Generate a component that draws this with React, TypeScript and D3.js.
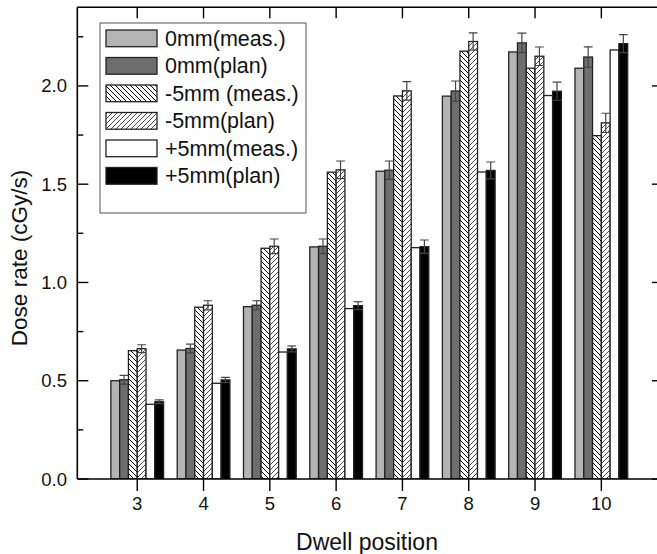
import React from "react";
import * as d3 from "d3";

const positions = [3, 4, 5, 6, 7, 8, 9, 10];
const meas0 = [0.5, 0.656, 0.877, 1.181, 1.566, 1.948, 2.173, 2.09];
const plan0 = [0.505, 0.664, 0.884, 1.184, 1.571, 1.974, 2.219, 2.147];
const plan0Err = [0.022, 0.022, 0.023, 0.037, 0.047, 0.051, 0.05, 0.052];
const measM5 = [0.653, 0.874, 1.174, 1.561, 1.949, 2.177, 2.09, 1.747];
const planM5 = [0.663, 0.884, 1.184, 1.573, 1.975, 2.226, 2.151, 1.812];
const planM5Err = [0.02, 0.023, 0.037, 0.045, 0.047, 0.044, 0.047, 0.049];
const measP5 = [0.38, 0.487, 0.646, 0.867, 1.177, 1.562, 1.951, 2.183];
const planP5 = [0.393, 0.504, 0.662, 0.882, 1.182, 1.57, 1.973, 2.215];
const planP5Err = [0.01, 0.013, 0.015, 0.02, 0.034, 0.043, 0.046, 0.046];

const seriesNames = ["0mm(meas.)", "0mm(plan)", "-5mm (meas.)", "-5mm(plan)", "+5mm(meas.)", "+5mm(plan)"];
const yMajor = [0, 0.5, 1.0, 1.5, 2.0];
const yMinor = [0.25, 0.75, 1.25, 1.75, 2.25];

const fills = ["#b4b4b4", "#6e6e6e", "url(#hatchBack)", "url(#hatchFwd)", "#ffffff", "#000000"];

export default function App() {
  const W = 657, H = 554;
  const left = 77.3, right = 663, top = 7.3, bottom = 479;
  const x = d3.scaleLinear().domain([2.096, 10.93]).range([left, right]);
  const y = d3.scaleLinear().domain([0, 2.4]).range([bottom, top]);
  const groupW = 0.795;
  const inner = d3.scaleBand().domain(d3.range(6).map(String)).range([-groupW / 2, groupW / 2]);
  const bw = x(inner.bandwidth()) - x(0);

  const series = [
    { vals: meas0, err: null },
    { vals: plan0, err: plan0Err },
    { vals: measM5, err: null },
    { vals: planM5, err: planM5Err },
    { vals: measP5, err: null },
    { vals: planP5, err: planP5Err },
  ];

  const font = "'Liberation Sans', Arial, sans-serif";

  return (
    <svg width={W} height={H} style={{ position: "absolute", left: 0, top: 0, background: "#fff" }} fontFamily={font}>
      <defs>
        <pattern id="hatchBack" patternUnits="userSpaceOnUse" width={5} height={5}>
          <rect width={5} height={5} fill="#fff" />
          <path d="M0,0 L5,5 M-1,4 L1,6 M4,-1 L6,1" stroke="#000" strokeWidth={1} />
        </pattern>
        <pattern id="hatchFwd" patternUnits="userSpaceOnUse" width={5} height={5}>
          <rect width={5} height={5} fill="#fff" />
          <path d="M0,5 L5,0 M-1,1 L1,-1 M4,6 L6,4" stroke="#333" strokeWidth={0.9} />
        </pattern>
        <clipPath id="plotClip">
          <rect x={left} y={top} width={right - left} height={bottom - top} />
        </clipPath>
      </defs>
      <rect width={W} height={H} fill="#fff" />

      {/* bars */}
      <g clipPath="url(#plotClip)">
        {series.map((s, si) =>
          positions.map((p, i) => {
            const x0 = x(p + inner(String(si))!);
            return (
              <rect
                key={`b${si}-${i}`}
                x={x0}
                y={y(s.vals[i])}
                width={bw}
                height={y(0) - y(s.vals[i])}
                fill={fills[si]}
                stroke="#222"
                strokeWidth={1.3}
              />
            );
          })
        )}
        {series.map((s, si) =>
          s.err
            ? positions.map((p, i) => {
                const cx = x(p + inner(String(si))!) + bw / 2;
                const v = s.vals[i];
                const e = s.err![i];
                const capW = bw;
                return (
                  <g key={`e${si}-${i}`} stroke="#444" strokeWidth={1.2}>
                    <line x1={cx} x2={cx} y1={y(v + e)} y2={y(v - e)} />
                    <line x1={cx - capW / 2} x2={cx + capW / 2} y1={y(v + e)} y2={y(v + e)} />
                    <line x1={cx - capW / 2} x2={cx + capW / 2} y1={y(v - e)} y2={y(v - e)} />
                  </g>
                );
              })
            : null
        )}
      </g>

      {/* frame */}
      <g stroke="#000" strokeWidth={1.6} fill="none">
        <line x1={left} x2={left} y1={top} y2={bottom} />
        <line x1={right} x2={right} y1={top} y2={bottom} />
        <line x1={left} x2={right} y1={top} y2={top} />
        <line x1={left} x2={right} y1={bottom} y2={bottom} />
      </g>

      {/* ticks */}
      <g stroke="#000" strokeWidth={1.4}>
        {yMajor.map((v) => (
          <g key={`ym${v}`}>
            <line x1={left} x2={left + 11} y1={y(v)} y2={y(v)} />
            <line x1={right} x2={right - 11} y1={y(v)} y2={y(v)} />
          </g>
        ))}
        {yMinor.map((v) => (
          <g key={`yn${v}`}>
            <line x1={left} x2={left + 6} y1={y(v)} y2={y(v)} />
            <line x1={right} x2={right - 6} y1={y(v)} y2={y(v)} />
          </g>
        ))}
        {positions.map((p) => (
          <g key={`xt${p}`}>
            <line x1={x(p)} x2={x(p)} y1={bottom} y2={bottom + 12} />
            <line x1={x(p)} x2={x(p)} y1={top} y2={top + 11} />
          </g>
        ))}
      </g>

      {/* tick labels */}
      <g fontSize={18.5} fill="#111">
        {yMajor.map((v) => (
          <text key={`yl${v}`} x={67} y={y(v) + 6.5} textAnchor="end">
            {d3.format(".1f")(v)}
          </text>
        ))}
        {positions.map((p) => (
          <text key={`xl${p}`} x={x(p)} y={509.5} textAnchor="middle">
            {p}
          </text>
        ))}
      </g>

      {/* axis titles */}
      <text x={367} y={550} textAnchor="middle" fontSize={23} fill="#111">
        Dwell position
      </text>
      <text
        transform={`translate(27, 258) rotate(-90)`}
        textAnchor="middle"
        fontSize={22.5}
        fill="#111"
      >
        Dose rate (cGy/s)
      </text>

      {/* legend */}
      <g>
        <rect x={100} y={23} width={206} height={190} fill="#fff" stroke="#555" strokeWidth={1} />
        {seriesNames.map((n, i) => {
          const ty = 30 + i * 27.5;
          return (
            <g key={`lg${i}`}>
              <rect x={106} y={ty} width={51} height={16.7} fill={fills[i]} stroke="#222" strokeWidth={1.3} />
              <text x={165} y={ty + 15.5} fontSize={21.5} fill="#111">
                {n}
              </text>
            </g>
          );
        })}
      </g>
    </svg>
  );
}
